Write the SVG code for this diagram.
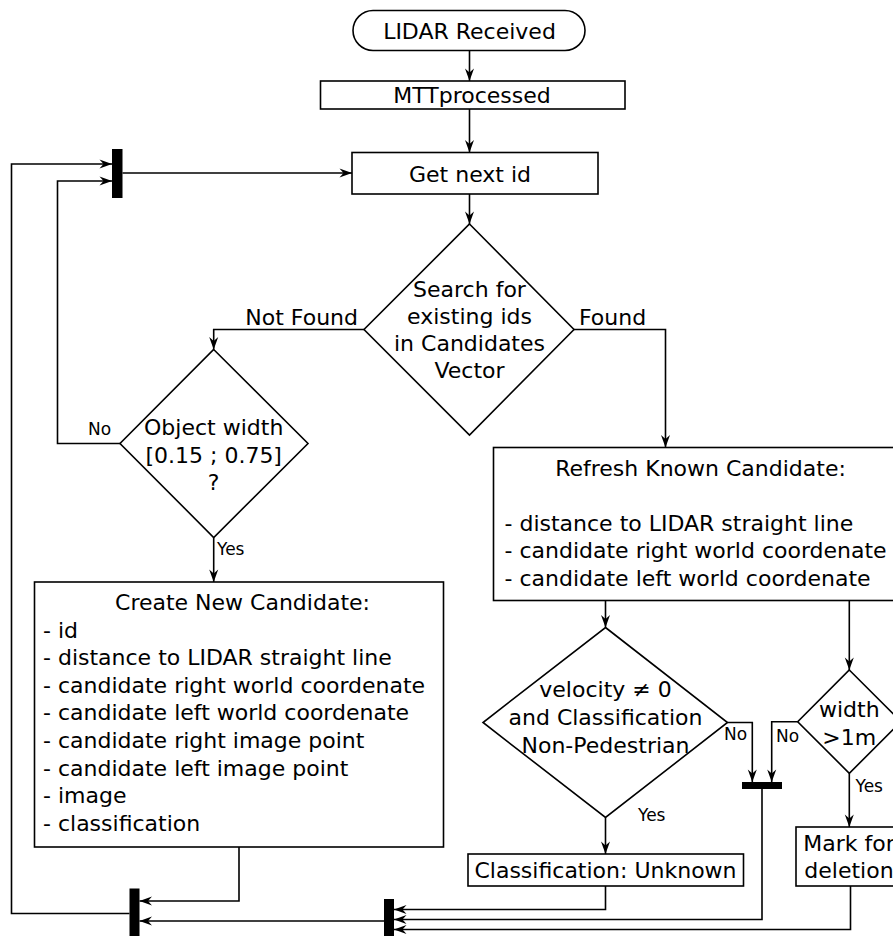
<svg xmlns="http://www.w3.org/2000/svg" width="893" height="936" viewBox="0 0 893 936">
  <style>
    .shape { fill: #ffffff; stroke: #000000; stroke-width: 1.6; }
    .bar { fill: #000000; stroke: none; }
    .conn { fill: none; stroke: #000000; stroke-width: 1.6; marker-end: url(#arrow); }
    .plain { fill: none; stroke: #000000; stroke-width: 1.6; }
    text { font-family: "DejaVu Sans", "Liberation Sans", sans-serif; fill: #000000; }
    .t { font-size: 22px; }
    .c { text-anchor: middle; }
    .lbl { font-size: 17px; }
  </style>
  <defs>
    <marker id="arrow" viewBox="-13 -5 14 10" refX="0" refY="0" markerWidth="14" markerHeight="10" markerUnits="userSpaceOnUse" orient="auto">
      <path d="M0,0 L-12.5,-4.5 L-8.5,0 L-12.5,4.5 Z" fill="#000000"/>
    </marker>
  </defs>

  <rect width="893" height="936" fill="#ffffff"/>

  <!-- connectors -->
  <g id="connectors">
    <path class="conn" d="M469.5,50.5 V81"/>
    <path class="conn" d="M469.5,109 V152.5"/>
    <path class="conn" d="M469.5,194 V224"/>
    <path class="conn" d="M364,329.5 H213.7 V349.5"/>
    <path class="conn" d="M574,329.5 H665.5 V447.5"/>
    <path class="conn" d="M120,443.5 H57.5 V181 H112"/>
    <path class="conn" d="M213.7,537.5 V582"/>
    <path class="conn" d="M122.5,173 H352"/>
    <path class="conn" d="M239,847 V901 H139.5"/>
    <path class="conn" d="M129.5,913.5 H11.5 V164 H112"/>
    <path class="conn" d="M384,921 H139.5"/>
    <path class="conn" d="M605.5,886 V909.5 H394"/>
    <path class="conn" d="M762,789 V919.5 H394"/>
    <path class="conn" d="M850.5,886 V929.5 H394"/>
    <path class="conn" d="M605.5,600.5 V627.5"/>
    <path class="conn" d="M849.3,600.5 V670"/>
    <path class="conn" d="M727.5,722.5 H752.3 V782"/>
    <path class="conn" d="M797.7,721.7 H771.7 V782"/>
    <path class="conn" d="M605.5,817.5 V854"/>
    <path class="conn" d="M849.3,773.3 V827"/>

    <text class="t" x="358" y="324.5" text-anchor="end">Not Found</text>
    <text class="t" x="579" y="325">Found</text>
    <text class="lbl" x="88" y="435">No</text>
    <text class="lbl" x="217" y="555">Yes</text>
    <text class="lbl" x="724" y="740">No</text>
    <text class="lbl" x="776" y="741.5">No</text>
    <text class="lbl" x="855.5" y="791.5">Yes</text>
    <text class="lbl" x="638" y="820.5">Yes</text>
  </g>

  <!-- synchronisation bars -->
  <g id="bar-loop"><rect class="bar" x="112" y="149" width="10.5" height="49"/></g>
  <g id="bar-merge-left"><rect class="bar" x="129.5" y="888.5" width="10" height="48"/></g>
  <g id="bar-merge-right"><rect class="bar" x="384" y="899" width="10" height="38"/></g>
  <g id="bar-no"><rect class="bar" x="742" y="782" width="40" height="7"/></g>

  <g id="start">
    <rect class="shape" x="353" y="10.5" width="232" height="40" rx="20" ry="20"/>
    <text class="t c" x="469.5" y="39">LIDAR Received</text>
  </g>

  <g id="mtt">
    <rect class="shape" x="320.5" y="81" width="304.5" height="28"/>
    <text class="t c" x="472" y="102.7">MTTprocessed</text>
  </g>

  <g id="next-id">
    <rect class="shape" x="352" y="152.5" width="246" height="41.5"/>
    <text class="t c" x="470" y="181.5">Get next id</text>
  </g>

  <g id="search">
    <polygon class="shape" points="469.5,224 574,329.5 469.5,435 364,329.5"/>
    <text class="t c" x="469.5" y="297">Search for</text>
    <text class="t c" x="469.5" y="324">existing ids</text>
    <text class="t c" x="469.5" y="351">in Candidates</text>
    <text class="t c" x="469.5" y="378">Vector</text>
  </g>

  <g id="object-width">
    <polygon class="shape" points="213.7,349.5 308,443.5 213.7,537.5 120,443.5"/>
    <text class="t c" x="213.7" y="435">Object width</text>
    <text class="t c" x="213.7" y="462.5">[0.15 ; 0.75]</text>
    <text class="t c" x="213.7" y="490">?</text>
  </g>

  <g id="create">
    <rect class="shape" x="34.5" y="582" width="409" height="265"/>
    <text class="t c" x="242.5" y="610">Create New Candidate:</text>
    <text class="t" x="43">
      <tspan x="43" y="637.6">- id</tspan>
      <tspan x="43" y="665.2">- distance to LIDAR straight line</tspan>
      <tspan x="43" y="692.8">- candidate right world coordenate</tspan>
      <tspan x="43" y="720.4">- candidate left world coordenate</tspan>
      <tspan x="43" y="748">- candidate right image point</tspan>
      <tspan x="43" y="775.6">- candidate left image point</tspan>
      <tspan x="43" y="803.2">- image</tspan>
      <tspan x="43" y="830.8">- classification</tspan>
    </text>
  </g>

  <g id="refresh">
    <rect class="shape" x="493.5" y="447.5" width="414" height="153"/>
    <text class="t c" x="700.5" y="475.5">Refresh Known Candidate:</text>
    <text class="t">
      <tspan x="504.5" y="530.7">- distance to LIDAR straight line</tspan>
      <tspan x="504.5" y="558.3">- candidate right world coordenate</tspan>
      <tspan x="504.5" y="585.9">- candidate left world coordenate</tspan>
    </text>
  </g>

  <g id="velocity">
    <polygon class="shape" points="605.5,627.5 727.5,722.5 605.5,817.5 483,722.5"/>
    <text class="t c" x="605.5" y="697.3">velocity ≠ 0</text>
    <text class="t c" x="605.5" y="725">and Classification</text>
    <text class="t c" x="605.5" y="752.5">Non-Pedestrian</text>
  </g>

  <g id="width">
    <polygon class="shape" points="849.3,670 901,721.7 849.3,773.3 797.7,721.7"/>
    <text class="t c" x="849.3" y="716.7">width</text>
    <text class="t c" x="849.3" y="745">&gt;1m</text>
  </g>

  <g id="class-unknown">
    <rect class="shape" x="468" y="854" width="275.5" height="32"/>
    <text class="t c" x="605.5" y="878.3">Classification: Unknown</text>
  </g>

  <g id="mark-deletion">
    <rect class="shape" x="796" y="827" width="106" height="59"/>
    <text class="t c" x="849" y="850.7">Mark for</text>
    <text class="t c" x="849" y="878.3">deletion</text>
  </g>
</svg>
